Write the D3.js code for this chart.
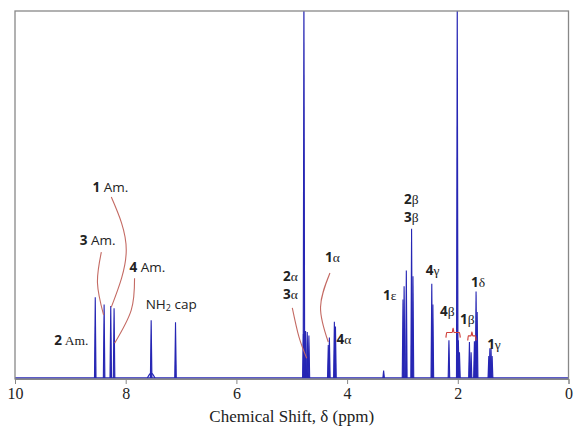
<!DOCTYPE html>
<html>
<head>
<meta charset="utf-8">
<script src="https://cdn.jsdelivr.net/npm/d3@7"></script>
<style>
  body { margin: 0; background: #fff; }
  svg { display: block; }
  .axis text { font-family: "Liberation Serif", "DejaVu Serif", serif; font-size: 16px; fill: #222; }
  .axis line, .axis path { stroke: #888; }
  .lbl { font-size: 13.5px; fill: #222; }
</style>
</head>
<body>
<svg id="chart"></svg>
<script>
// peak positions (ppm), heights (% of frame) and half widths (ppm)
const peakPpm = [8.55, 8.39, 8.27, 8.21, 7.54, 7.10,
  4.78, 4.79, 4.75, 4.72, 4.69, 4.34, 4.32, 4.23, 4.21, 3.34,
  2.99, 2.97, 2.93, 2.835, 2.81, 2.47, 2.45,
  2.16, 2.01, 1.99, 1.97, 1.79, 1.76, 1.70, 1.67, 1.65,
  1.44, 1.42, 1.40, 1.38];
const peakHeight = [22, 20, 19.6, 19, 15.7, 15.2,
  106, 12, 12.8, 12.5, 11.6, 9, 11, 15.3, 14, 2,
  21.4, 25, 29.3, 40.7, 27.7, 25.7, 20,
  10.3, 106, 10.3, 7, 9.8, 7, 10, 23.6, 18,
  6, 8.1, 8.1, 6];
const peakWidth = 0.014;
// broad humps under some lines
const humpPpm = [7.54, 4.74];
const humpHeight = [1.3, 1.5];
const humpWidth = [0.07, 0.06];

const xTicks = [10, 8, 6, 4, 2, 0];
const xTitle = "Chemical Shift, δ (ppm)";

// annotations: [bold part, rest, ppm, intensity, rest-font]
const labels = [
  ["1", " Am.", 8.60, 50.7, "sans"],
  ["3", " Am.", 8.83, 36.2, "sans"],
  ["4", " Am.", 7.93, 28.9, "sans"],
  ["2", " Am.", 9.29, 9.0, "serif"],
  ["", "NH|2| cap", 7.64, 18.8, "sans"],
  ["2", "α", 5.16, 26.4, "serif"],
  ["3", "α", 5.16, 21.5, "serif"],
  ["1", "α", 4.40, 31.6, "serif"],
  ["4", "α", 4.19, 9.3, "serif"],
  ["1", "ε", 3.35, 21.3, "serif"],
  ["2", "β", 2.97, 47.4, "serif"],
  ["3", "β", 2.97, 42.5, "serif"],
  ["4", "γ", 2.58, 28.1, "serif"],
  ["4", "β", 2.32, 16.9, "serif"],
  ["1", "β", 1.96, 14.7, "serif"],
  ["1", "δ", 1.76, 24.8, "serif"],
  ["1", "γ", 1.47, 7.9, "serif"]
];

// leader curves [ppm, intensity]
const leaders = [
  [[8.26, 49.3], [7.99, 34.9], [8.26, 19.3]],
  [[8.44, 34.3], [8.51, 25.9], [8.40, 17.2]],
  [[7.84, 27.2], [7.90, 18.5], [8.20, 9.5]],
  [[4.99, 19.1], [4.87, 11.2], [4.73, 5.4]],
  [[4.31, 28.6], [4.48, 19.3], [4.34, 9.8]]
];
const braces = [
  [[2.215, 11.0], [2.20, 12.4], [2.10, 12.4], [2.085, 13.6], [2.07, 12.4], [1.97, 12.4], [1.955, 11.0]],
  [[1.82, 10.2], [1.81, 11.5], [1.76, 11.5], [1.745, 12.6], [1.73, 11.5], [1.68, 11.5], [1.67, 10.2]]
];

const W = 574, H = 434;
const margin = { top: 11, right: 5.5, bottom: 55, left: 15 };
const iw = W - margin.left - margin.right;
const ih = H - margin.top - margin.bottom;

const svg = d3.select("#chart").attr("width", W).attr("height", H);
const g = svg.append("g").attr("transform", `translate(${margin.left},${margin.top})`);

const x = d3.scaleLinear().domain([10, 0]).range([0, iw]);
const y = d3.scaleLinear().domain([0, 100]).range([ih - 1, 0]);

svg.append("defs").append("clipPath").attr("id", "clip")
  .append("rect").attr("width", iw).attr("height", ih);

const blue = "#2626b4";
const plot = g.append("g").attr("clip-path", "url(#clip)");

// baseline
plot.append("line")
  .attr("x1", x(10)).attr("x2", x(0))
  .attr("y1", y(0)).attr("y2", y(0))
  .attr("stroke", blue).attr("stroke-width", 1.3);

const peakLine = d3.line().x(d => x(d[0])).y(d => y(d[1]));

humpPpm.forEach((p, i) => {
  plot.append("path")
    .attr("d", d3.line().x(d => x(d[0])).y(d => y(d[1])).curve(d3.curveBasis)([
      [p + humpWidth[i], 0], [p + humpWidth[i] / 3, humpHeight[i]], [p, humpHeight[i]],
      [p - humpWidth[i] / 3, humpHeight[i]], [p - humpWidth[i], 0]]))
    .attr("fill", "none").attr("stroke", blue).attr("stroke-width", 1.2);
});

plot.selectAll(".peak")
  .data(peakPpm.map((p, i) => ({ p, h: peakHeight[i] })))
  .join("path")
  .attr("class", "peak")
  .attr("d", d => peakLine([[d.p + peakWidth, 0], [d.p, d.h], [d.p - peakWidth, 0]]))
  .attr("fill", blue)
  .attr("stroke", blue)
  .attr("stroke-width", 1.1)
  .attr("stroke-linejoin", "miter");

// frame
g.append("rect")
  .attr("width", iw).attr("height", ih)
  .attr("fill", "none").attr("stroke", "#888").attr("stroke-width", 1.3);

const xAxis = d3.axisBottom(x).tickValues(xTicks).tickSize(5).tickPadding(4);
g.append("g").attr("class", "axis")
  .attr("transform", `translate(0,${ih})`)
  .call(xAxis);

g.append("text")
  .attr("x", iw / 2).attr("y", ih + 43)
  .attr("text-anchor", "middle")
  .style("font-family", "'Liberation Serif', serif")
  .style("font-size", "17px")
  .attr("fill", "#222")
  .text(xTitle);

// leaders
const curve = d3.line().x(d => x(d[0])).y(d => y(d[1])).curve(d3.curveNatural);
g.selectAll(".leader").data(leaders).join("path")
  .attr("d", curve)
  .attr("fill", "none").attr("stroke", "#c46a63").attr("stroke-width", 1.1);
const brace = d3.line().x(d => x(d[0])).y(d => y(d[1])).curve(d3.curveMonotoneX);
g.selectAll(".brace").data(braces).join("path")
  .attr("d", brace)
  .attr("fill", "none").attr("stroke", "#d0403a").attr("stroke-width", 1.2);

// labels
const sans = "'Open Sans', 'Liberation Sans', sans-serif";
const serif = "'Liberation Serif', 'DejaVu Serif', serif";
labels.forEach(([b, rest, p, v, f]) => {
  const t = g.append("text").attr("class", "lbl").attr("x", x(p)).attr("y", y(v));
  if (b) t.append("tspan").style("font-family", sans).style("font-weight", "bold").text(b);
  const parts = rest.split("|");
  parts.forEach((s, k) => {
    const ts = t.append("tspan").style("font-family", f === "serif" ? serif : sans);
    if (k % 2 === 1) ts.attr("baseline-shift", "-25%").style("font-size", "9px");
    ts.text(s);
  });
});
</script>
</body>
</html>
